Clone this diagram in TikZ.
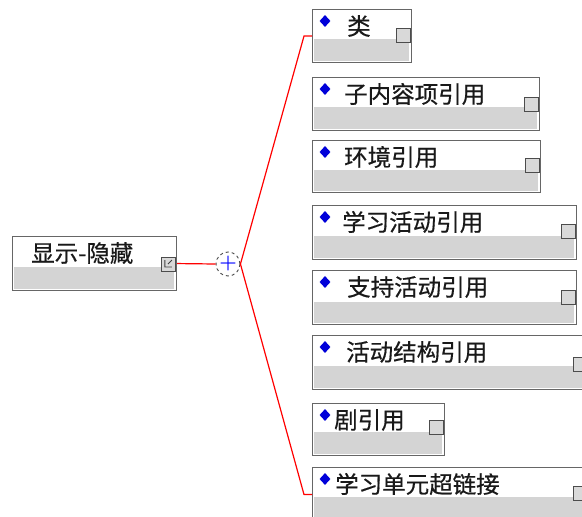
\documentclass[tikz,border=0pt]{standalone}
\usepackage{fontspec}
\newfontfamily\cjk[FakeBold=0.5]{Noto Sans CJK SC}
\usetikzlibrary{shapes.geometric}
\tikzset{
 frame/.style={draw=black!60, line width=1.1pt, rectangle, inner sep=0pt, anchor=north west},
 lower/.style={fill=black!17},
 lbl/.style={font=\cjk\fontsize{23.5}{26}\selectfont, anchor=west, inner sep=0pt, text=black!90},
 bullet/.style={diamond, fill=blue!85!black, inner sep=0pt, minimum width=11pt, minimum height=12pt},
 handle/.style={draw=black!70, fill=black!15, line width=1.1pt, rectangle, inner sep=0pt, minimum size=14pt, anchor=north east},
 conn/.style={draw=red, line width=1.2pt},
 toggle/.style={circle, draw=black!70, dashed, line width=0.9pt, minimum size=24pt, inner sep=0pt, fill=white}
}
% name, top, width, height, split, textx, handle offset, text
\newcommand\mybox[8]{%
 \node[frame, minimum width=#3pt, minimum height=#4pt] (#1) at (312,#2) {};
 \fill[lower] (313.5,{#2+#5}) rectangle ({312+#3-2},{#2+#4-1.5});
 \node[handle] (#1h) at ({312+#3},{#2+#7}) {};
 \node[bullet] (#1d) at (325,{#2+12}) {};
 \node[lbl] (#1t) at (#6,{#2+17}) {#8};
}
\begin{document}
\begin{tikzpicture}[x=1pt,y=-1pt]
\useasboundingbox (0,0) rectangle (582,517);
\fill[white] (0,0) rectangle (582,517);

% root
\node[frame, minimum width=164pt, minimum height=54pt] (root) at (12,236) {};
\fill[lower] (13.5,267) rectangle (174,288.5);
\node[lbl] (roott) at (31,253) {显示-隐藏};
\node[handle, minimum size=14pt] (rooth) at (176,257) {};
\draw[black!75, line width=0.9pt] ([shift={(4,3)}]rooth.north west) -- ([shift={(4,10)}]rooth.north west) -- ([shift={(11,10)}]rooth.north west)
  ([shift={(7,7)}]rooth.north west) -- ([shift={(11,3)}]rooth.north west);

\node[toggle] (tog) at (228,264) {};
\node[text=blue, font=\fontsize{20}{20}\selectfont\bfseries, inner sep=0pt] (plus) at (tog.center) {+};

\mybox{b1}{9}{99}{53}{30}{347}{19}{类}
\mybox{b2}{77}{227}{53}{30}{344}{20}{子内容项引用}
\mybox{b3}{140}{228}{52}{30}{344}{18}{环境引用}
\mybox{b4}{205}{264}{54}{31}{342}{19}{学习活动引用}
\mybox{b5}{270}{264}{54}{32}{347}{20}{支持活动引用}
\mybox{b6}{335}{276}{54}{31}{346}{22}{活动结构引用}
\mybox{b7}{403}{132}{52}{29}{334}{17}{剧引用}
\mybox{b8}{467}{276}{54}{30}{335}{19}{学习单元超链接}

\draw[conn] (root.east) -- (tog.west);
\draw[conn] (tog.east) -- ([xshift=-8pt]b1.west) -- (b1.west);
\draw[conn] (tog.east) -- ([xshift=-8pt]b8.west) -- (b8.west);
\end{tikzpicture}
\end{document}
